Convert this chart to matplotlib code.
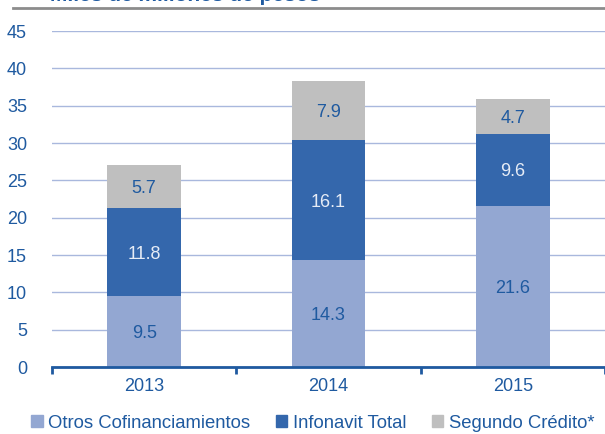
import matplotlib
matplotlib.use('Agg')
import matplotlib.pyplot as plt
from matplotlib.lines import Line2D
from matplotlib.patches import Patch
import numpy as np

plt.rcParams['font.family'] = ['Liberation Sans', 'DejaVu Sans']

years = ['2013', '2014', '2015']
otros = [9.5, 14.3, 21.6]
infonavit = [11.8, 16.1, 9.6]
segundo = [5.7, 7.9, 4.7]
series_names = ['Otros Cofinanciamientos', 'Infonavit Total', 'Segundo Crédito*']

c_otros = '#93a7d2'
c_info = '#3467ac'
c_seg = '#bfbfbf'
c_text = '#1f5aa0'

W, H = 605, 434
fig = plt.figure(figsize=(W / 100, H / 100), dpi=100)
ax = fig.add_axes([52 / W, 1 - 367 / H, (605 - 52) / W, (367 - 31) / H])

x = np.arange(len(years))
bw = 0.40
ax.bar(x, otros, bw, color=c_otros, zorder=3)
ax.bar(x, infonavit, bw, bottom=otros, color=c_info, zorder=3)
bottom3 = [a + b for a, b in zip(otros, infonavit)]
ax.bar(x, segundo, bw, bottom=bottom3, color=c_seg, zorder=3)

fs = 13
for i in range(len(years)):
    ax.text(x[i], otros[i] / 2, f'{otros[i]:.1f}', ha='center', va='center_baseline',
            color=c_text, fontsize=fs, zorder=4)
    ax.text(x[i], otros[i] + infonavit[i] / 2, f'{infonavit[i]:.1f}', ha='center',
            va='center_baseline', color='#e6ecf6', fontsize=fs, zorder=4)
    ax.text(x[i], bottom3[i] + segundo[i] / 2, f'{segundo[i]:.1f}', ha='center',
            va='center_baseline', color=c_text, fontsize=fs, zorder=4)

ax.set_ylim(0, 45)
ax.set_yticks(range(0, 46, 5))
ax.set_xlim(-0.5, len(years) - 0.5)
ax.set_xticks(x)
ax.set_xticklabels(years)
ax.set_xticks([-0.5, 0.5, 1.5, 2.5], minor=True)
ax.tick_params(axis='x', which='major', length=0, pad=8, labelsize=fs, labelcolor=c_text)
ax.tick_params(axis='x', which='minor', length=5, width=2, color=c_text, direction='out')
ax.tick_params(axis='y', length=0, pad=18, labelsize=fs, labelcolor=c_text)

ax.grid(axis='y', color='#a9b8dd', linewidth=1, zorder=0)
ax.set_axisbelow(True)
for s in ['top', 'right', 'left']:
    ax.spines[s].set_visible(False)
ax.spines['bottom'].set_color(c_text)
ax.spines['bottom'].set_linewidth(2)
ax.spines['bottom'].set_zorder(5)

handles = [Patch(color=c) for c in (c_otros, c_info, c_seg)]
leg = fig.legend(handles, series_names, loc='center', bbox_to_anchor=(0.517, 1 - 423 / H),
                 ncol=3, frameon=False, fontsize=13.3, handlelength=0.6, handleheight=0.6,
                 handletextpad=0.3, columnspacing=1.4, borderpad=0, borderaxespad=0)
for t in leg.get_texts():
    t.set_color(c_text)

# cut-off title and rule at the top
fig.text(50 / W, 1 - 1.2 / H, 'Miles de millones de pesos', ha='left', va='baseline',
         fontsize=15, fontweight='bold', color=c_text)
fig.add_artist(Line2D([13 / W, 1], [1 - 8 / H, 1 - 8 / H], transform=fig.transFigure,
                      color='#8c8c8c', linewidth=2))

plt.savefig('out.png', dpi=100)
plt.close(fig)
